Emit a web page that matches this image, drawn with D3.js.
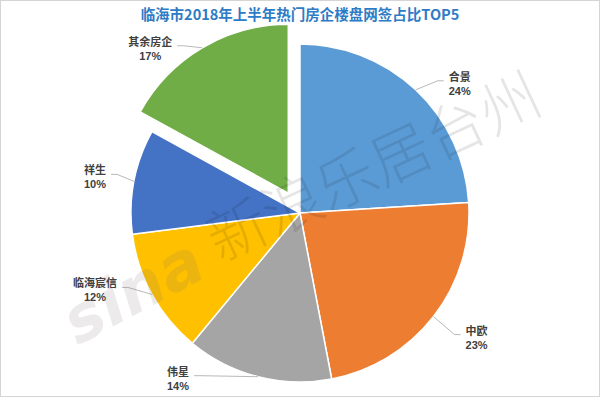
<!DOCTYPE html>
<html>
<head>
<meta charset="utf-8">
<script src="https://cdn.jsdelivr.net/npm/d3@7"></script>
<style>
  html, body { margin: 0; padding: 0; background: #fff; }
  svg { display: block; }
</style>
</head>
<body>
<div id="chart"></div>
<script>
// chart data
const title = "临海市2018年上半年热门房企楼盘网签占比TOP5";
const companies = ["合景", "中欧", "伟星", "临海宸信", "祥生", "其余房企"];
const shares = [24, 23, 14, 12, 10, 17];
const colors = ["#5B9BD5", "#ED7D31", "#A5A5A5", "#FFC000", "#4472C4", "#70AD47"];
// label block offsets from the slice edge point (layout only)
const labelOffsets = [[44, -6], [43, 21], [-80, 2], [-57, -4], [-39, -4], [-52, 1]];

const width = 600, height = 397;
const cx = 300, cy = 213, radius = 169;
const explodeIndex = 5, explodeBy = 23;

const svg = d3.select("#chart").append("svg")
    .attr("width", width)
    .attr("height", height);

svg.append("rect")
    .attr("x", 0.5).attr("y", 0.5)
    .attr("width", width - 1).attr("height", height - 1)
    .attr("fill", "#fff")
    .attr("stroke", "#d4d4d4");

svg.append("text")
    .attr("x", 300).attr("y", 20)
    .attr("text-anchor", "middle")
    .attr("font-family", "'Noto Sans CJK SC', sans-serif")
    .attr("font-weight", "bold")
    .attr("font-size", 14.5)
    .attr("fill", "#2E7BC6")
    .text(title);

const pie = d3.pie().sort(null).value(d => d);
const arcs = pie(shares);
const arc = d3.arc().innerRadius(0).outerRadius(radius);

const g = svg.append("g").attr("transform", "translate(" + cx + "," + cy + ")");

function shift(d, i) {
    if (i !== explodeIndex) return [0, 0];
    const a = (d.startAngle + d.endAngle) / 2;
    return [Math.sin(a) * explodeBy, -Math.cos(a) * explodeBy];
}

g.selectAll("path.slice")
    .data(arcs)
    .enter().append("path")
    .attr("class", "slice")
    .attr("transform", (d, i) => "translate(" + shift(d, i) + ")")
    .attr("d", arc)
    .attr("fill", (d, i) => colors[i])
    .attr("stroke", "#fff")
    .attr("stroke-width", 1.5)
    .attr("stroke-linejoin", "round");

// labels with leader lines
const labels = g.selectAll("g.label")
    .data(arcs)
    .enter().append("g")
    .attr("class", "label");

labels.each(function (d, i) {
    const sel = d3.select(this);
    const a = (d.startAngle + d.endAngle) / 2;
    const s = shift(d, i);
    const px = Math.sin(a) * radius + s[0];
    const py = -Math.cos(a) * radius + s[1];
    const lx = px + labelOffsets[i][0];
    const ly = py + labelOffsets[i][1];
    const halfW = companies[i].length * 5.5 + 3;
    const side = labelOffsets[i][0] > 0 ? -1 : 1;
    const ex = lx + side * (halfW + 2);
    const ey = ly - 3;

    sel.append("polyline")
        .attr("points", [[px, py], [ex + side * 6, ey], [ex, ey]].map(p => p.join(",")).join(" "))
        .attr("fill", "none")
        .attr("stroke", "#a6a6a6")
        .attr("stroke-width", 0.8);

    sel.append("text")
        .attr("x", lx).attr("y", ly - 3)
        .attr("text-anchor", "middle")
        .attr("font-family", "'Noto Sans CJK SC', sans-serif")
        .attr("font-weight", "bold")
        .attr("font-size", 11)
        .attr("fill", "#404040")
        .text(companies[i]);

    sel.append("text")
        .attr("x", lx).attr("y", ly + 11)
        .attr("text-anchor", "middle")
        .attr("font-family", "'Liberation Sans', Arial, sans-serif")
        .attr("font-weight", "bold")
        .attr("font-size", 11)
        .attr("fill", "#404040")
        .text(d.data + "%");
});

// watermark
svg.append("text")
    .attr("transform", "translate(376,172) rotate(-25)")
    .attr("text-anchor", "middle")
    .attr("dominant-baseline", "middle")
    .attr("font-family", "'Noto Sans CJK SC', sans-serif")
    .attr("font-weight", 300)
    .attr("font-size", 60)
    .attr("fill", "#000")
    .attr("fill-opacity", 0.1)
    .text("新浪乐居台州");

svg.append("text")
    .attr("transform", "translate(135,295) rotate(-28)")
    .attr("text-anchor", "middle")
    .attr("dominant-baseline", "middle")
    .attr("font-family", "'DejaVu Sans', sans-serif")
    .attr("font-weight", "bold")
    .attr("font-style", "italic")
    .attr("font-size", 64)
    .attr("fill", "#7a6a6a")
    .attr("fill-opacity", 0.14)
    .text("sina");
</script>
</body>
</html>
